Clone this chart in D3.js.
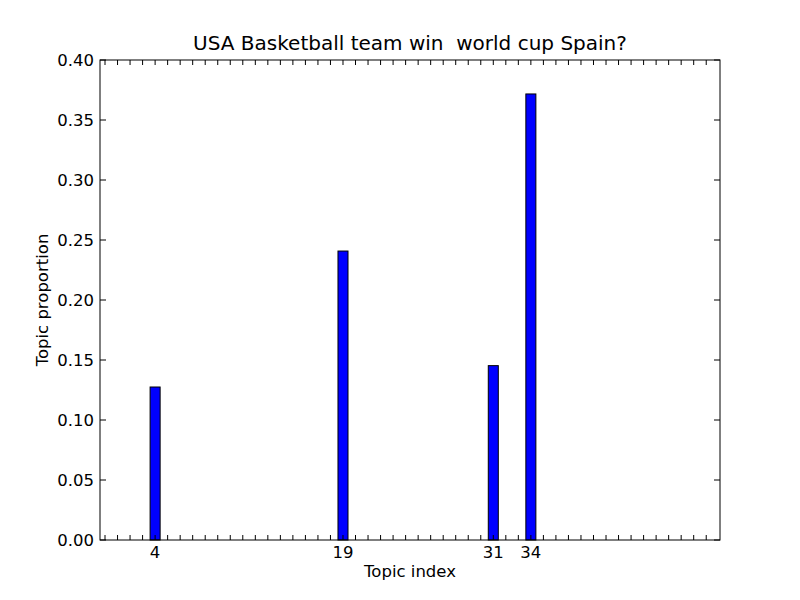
<!DOCTYPE html>
<meta charset="utf-8">
<style>
html, body { margin: 0; padding: 0; background: #fff; }
text { font-family: "DejaVu Sans", sans-serif; fill: #000; }
</style>
<body>
<script src="https://d3js.org/d3.v7.min.js"></script>
<script>

// topic indices with non-zero proportion and their values
var topics = [4, 19, 31, 34];
var proportions = [0.1275, 0.2408, 0.1453, 0.3717];
var yTicks = [0.00, 0.05, 0.10, 0.15, 0.20, 0.25, 0.30, 0.35, 0.40];
var nTopics = 49;
var title = "USA Basketball team win  world cup Spain?";

var width = 800,
    height = 600,
    margin = {top: 60, right: 80, bottom: 60, left: 100};

var iw = width - margin.left - margin.right,
    ih = height - margin.top - margin.bottom;

var svg = d3.select("body").append("svg")
    .attr("width", width)
    .attr("height", height);

var g = svg.append("g")
    .attr("transform", "translate(" + margin.left + "," + margin.top + ")");

var x = d3.scaleLinear().domain([0, 49.5]).range([0, iw]);
var y = d3.scaleLinear().domain([0, 0.4]).range([ih, 0]);

var barW = 0.8;

// bars
g.selectAll("rect.bar")
    .data(topics)
    .enter().append("rect")
    .attr("class", "bar")
    .attr("x", function(d) { return x(d); })
    .attr("width", function(d) { return x(d + barW) - x(d); })
    .attr("y", function(d, i) { return y(proportions[i]); })
    .attr("height", function(d, i) { return y(0) - y(proportions[i]); })
    .attr("fill", "#0000ff")
    .attr("stroke", "#000")
    .attr("stroke-width", 1);

// x ticks at every topic (bar centre), labels only for present topics
var xt = d3.range(nTopics);
var tickLen = 5;

g.selectAll("line.xb")
    .data(xt)
    .enter().append("line")
    .attr("x1", function(d) { return x(d + barW / 2); })
    .attr("x2", function(d) { return x(d + barW / 2); })
    .attr("y1", ih)
    .attr("y2", ih - tickLen)
    .attr("stroke", "#000");

g.selectAll("line.xt")
    .data(xt)
    .enter().append("line")
    .attr("x1", function(d) { return x(d + barW / 2); })
    .attr("x2", function(d) { return x(d + barW / 2); })
    .attr("y1", 0)
    .attr("y2", tickLen)
    .attr("stroke", "#000");

g.selectAll("text.xl")
    .data(topics)
    .enter().append("text")
    .attr("x", function(d) { return x(d + barW / 2); })
    .attr("y", ih + 18)
    .attr("text-anchor", "middle")
    .style("font-size", "16.5px")
    .text(function(d) { return d; });

// y ticks both sides
g.selectAll("line.yl")
    .data(yTicks)
    .enter().append("line")
    .attr("x1", 0)
    .attr("x2", tickLen + 1)
    .attr("y1", function(d) { return y(d); })
    .attr("y2", function(d) { return y(d); })
    .attr("stroke", "#000");

g.selectAll("line.yr")
    .data(yTicks)
    .enter().append("line")
    .attr("x1", iw)
    .attr("x2", iw - tickLen - 1)
    .attr("y1", function(d) { return y(d); })
    .attr("y2", function(d) { return y(d); })
    .attr("stroke", "#000");

g.selectAll("text.yl")
    .data(yTicks)
    .enter().append("text")
    .attr("x", -6)
    .attr("y", function(d) { return y(d); })
    .attr("dy", "0.36em")
    .attr("text-anchor", "end")
    .style("font-size", "16.5px")
    .text(function(d) { return d3.format(".2f")(d); });

// frame
g.append("rect")
    .attr("width", iw)
    .attr("height", ih)
    .attr("fill", "none")
    .attr("stroke", "#000")
    .attr("stroke-width", 1);

// labels
svg.append("text")
    .attr("x", margin.left + iw / 2)
    .attr("y", 50)
    .attr("text-anchor", "middle")
    .style("font-size", "20px")
    .style("white-space", "pre")
    .text(title);

svg.append("text")
    .attr("x", margin.left + iw / 2)
    .attr("y", 577)
    .attr("text-anchor", "middle")
    .style("font-size", "16.5px")
    .text("Topic index");

svg.append("text")
    .attr("transform", "translate(48," + (margin.top + ih / 2) + ") rotate(-90)")
    .attr("text-anchor", "middle")
    .style("font-size", "16.5px")
    .text("Topic proportion");

</script>
</body>
